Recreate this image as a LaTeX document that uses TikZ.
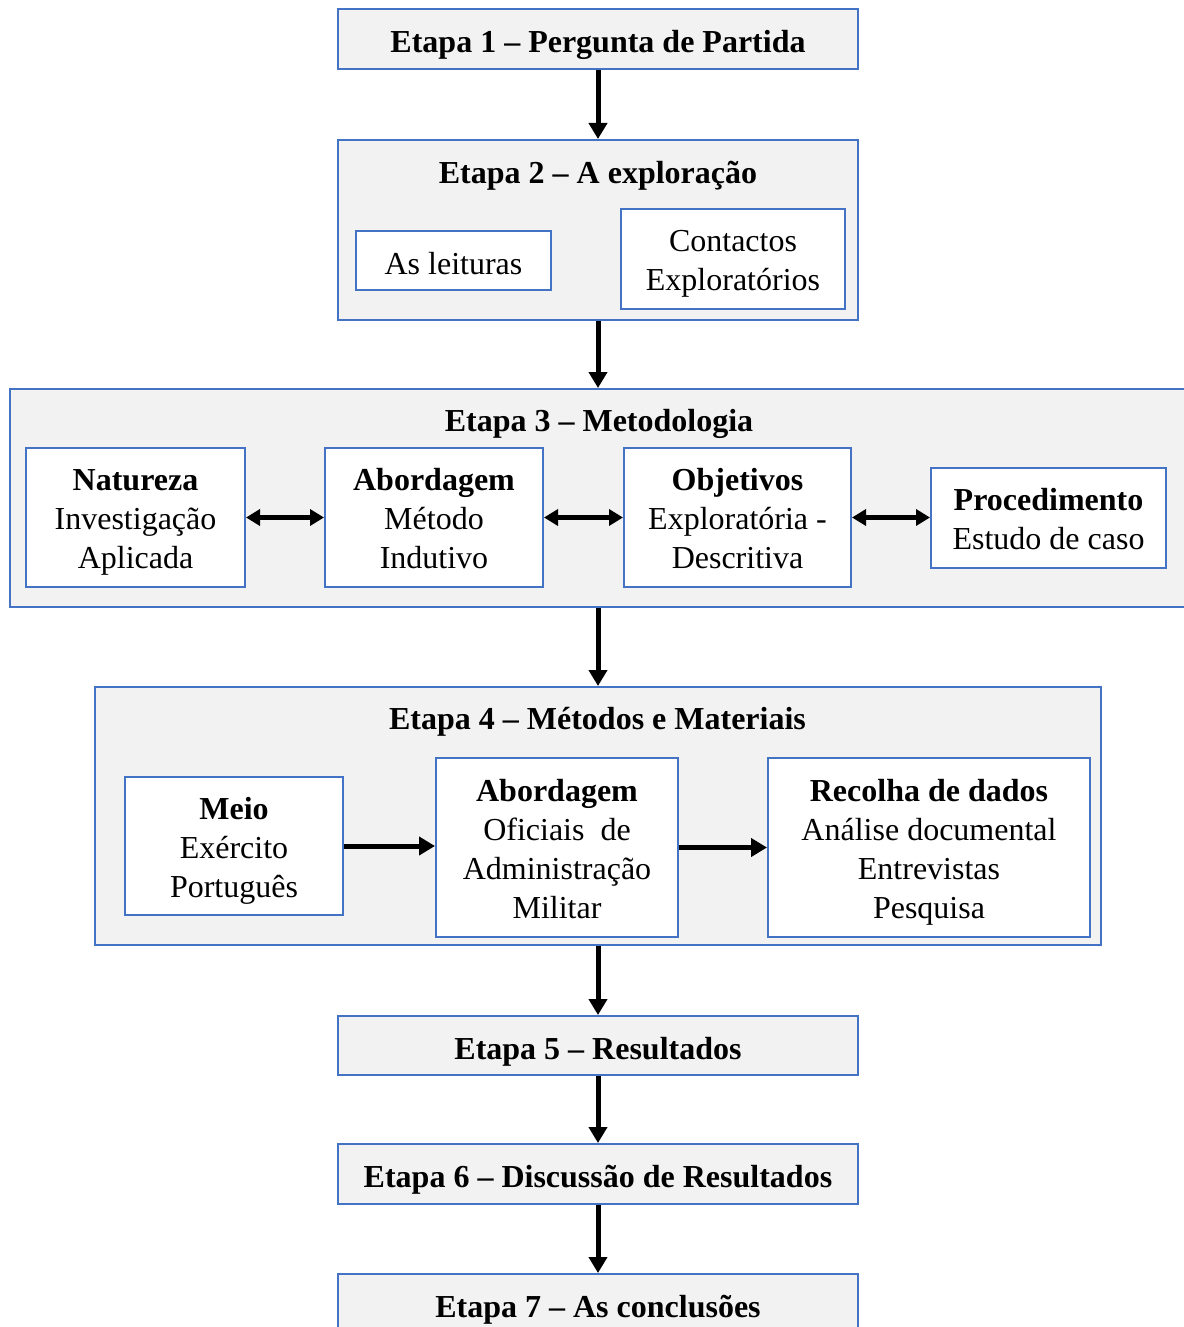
\documentclass[tikz,border=0pt]{standalone}
\usepackage{fontspec}
\setmainfont{Liberation Serif}
\usetikzlibrary{arrows.meta}
\definecolor{azul}{HTML}{4472C4}
\definecolor{cinza}{HTML}{F2F2F2}
\newcommand\linha{\rule[-5pt]{0pt}{23.5pt}}
\newcommand\topo{\rule{0pt}{17pt}}

\begin{document}
\begin{tikzpicture}[x=.5pt,y=-.5pt,every node/.style={font=\fontsize{16}{19.5}\selectfont,inner sep=0pt,execute at begin node=\linha,execute at end node=\linha},
  etapa/.style={draw=azul,line width=1pt,fill=cinza,minimum width=260pt,minimum height=30pt,font=\fontsize{16}{19.5}\selectfont\bfseries},
  titulo/.style={font=\fontsize{16}{19.5}\selectfont\bfseries},
  caixa/.style={draw=azul,line width=1pt,fill=white,align=center},
  seta/.style={line width=2.5pt,-{Triangle[width=9pt,length=8pt]}},
  dupla/.style={line width=2.5pt,{Triangle[width=8pt,length=7pt]}-{Triangle[width=8pt,length=7pt]}}]
\useasboundingbox(0,0)rectangle(1183,1327);
% etapas 1 e 2
\node[etapa](e1)at(598,39){Etapa 1 -- Pergunta de Partida};
\node[etapa,minimum height=90pt](e2)at(598,230){};
\node[titulo](e2t)at(598,170){Etapa 2 -- A exploração};
\node[caixa,minimum width=97.5pt,minimum height=29.5pt](leit)at(453.5,260.5){As leituras};
\node[caixa,minimum width=112pt,minimum height=50pt](cont)at(733,259){\topo Contactos\\Exploratórios};
% etapa 3
\node[etapa,minimum width=590pt,minimum height=109pt](e3)at(600,498){};
\node[titulo](e3t)at(599,418){Etapa 3 -- Metodologia};
\node[caixa,minimum width=109.5pt,minimum height=69.5pt](nat)at(135.5,517.5){\topo\textbf{Natureza}\\Investigação\\Aplicada};
\node[caixa,minimum width=109pt,minimum height=69.5pt](abo)at(434,517.5){\topo\textbf{Abordagem}\\Método\\Indutivo};
\node[caixa,minimum width=113.5pt,minimum height=69.5pt](obj)at(737.5,517.5){\topo\textbf{Objetivos}\\Exploratória -\\Descritiva};
\node[caixa,minimum width=117.5pt,minimum height=50pt](proc)at(1048.5,518){\topo\textbf{Procedimento}\\Estudo de caso};
% etapa 4
\node[etapa,minimum width=503pt,minimum height=129pt](e4)at(598,816){};
\node[titulo](e4t)at(597.5,716){Etapa 4 -- Métodos e Materiais};
\node[caixa,minimum width=109pt,minimum height=69pt](meio)at(234,846){\topo\textbf{Meio}\\Exército\\Português};
\node[caixa,minimum width=121pt,minimum height=89.5pt](abo2)at(557,847.5){\topo\textbf{Abordagem}\\Oficiais\ \ de\\Administração\\Militar};
\node[caixa,minimum width=161pt,minimum height=89.5pt](rec)at(929,847.5){\topo\textbf{Recolha de dados}\\Análise documental\\Entrevistas\\Pesquisa};
% etapas 5 a 7
\node[etapa,minimum height=29.5pt](e5)at(598,1045.5){Etapa 5 -- Resultados};
\node[etapa](e6)at(598,1174){Etapa 6 -- Discussão de Resultados};
\node[etapa](e7)at(598,1304){Etapa 7 -- As conclusões};
% setas
\draw[seta](e1)--(e2);\draw[seta](e2.south)--(e2.south|-e3.north);\draw[seta](e3.south-|e4)--(e4);
\draw[seta](e4)--(e5);\draw[seta](e5)--(e6);\draw[seta](e6)--(e7);
\draw[dupla](nat)--(abo);\draw[dupla](abo)--(obj);\draw[dupla](obj.east)--(obj.east-|proc.west);
\draw[seta](meio.east)--(meio.east-|abo2.west);\draw[seta](abo2.east)--(abo2.east-|rec.west);
\end{tikzpicture}
\end{document}
